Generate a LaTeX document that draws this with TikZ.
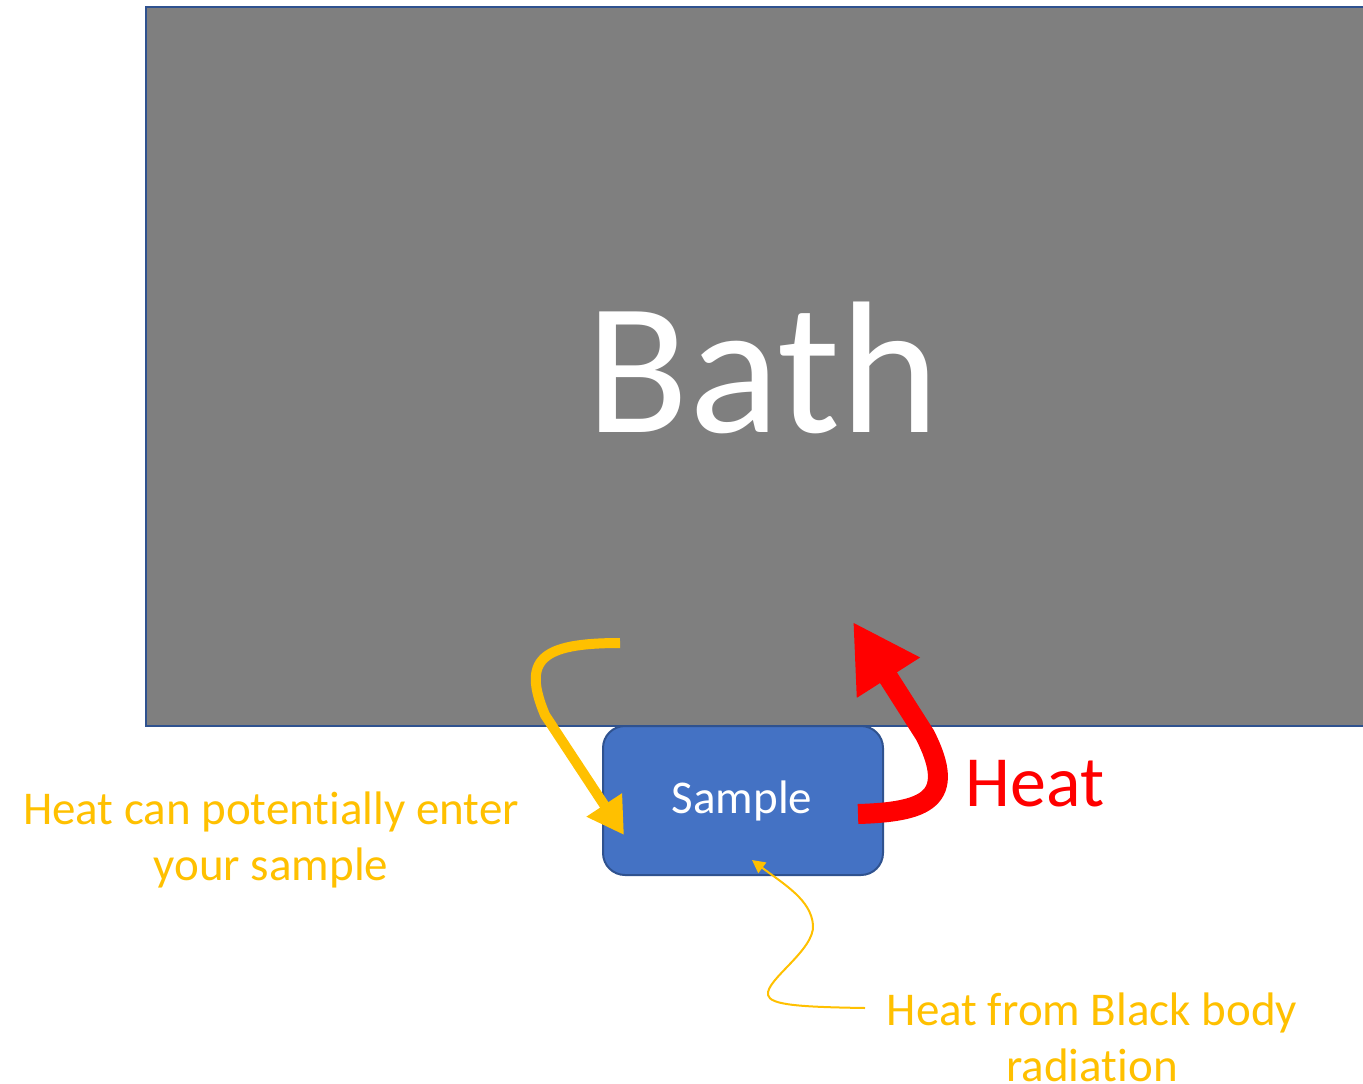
\documentclass[tikz,border=0pt]{standalone}
\usepackage{fontspec}
\setmainfont[Ligatures={NoCommon}]{Carlito}
\usetikzlibrary{arrows.meta}
\definecolor{bathgray}{HTML}{7F7F7F}
\definecolor{edgeblue}{HTML}{2F528F}
\definecolor{sampleblue}{HTML}{4472C4}
\definecolor{heatorange}{HTML}{FFC000}
\definecolor{heatred}{HTML}{FF0000}
\tikzset{
  bathbox/.style={fill=bathgray, draw=edgeblue, line width=2.5pt},
  samplebox/.style={fill=sampleblue, draw=edgeblue, line width=2pt, rounded corners=22pt},
  label/.style={inner sep=0pt, align=center},
  yarrow/.style={draw=heatorange, line width=10pt, -{Triangle[length=36pt,width=40pt]}},
  rarrow/.style={draw=heatred, line width=20pt, -{Triangle[length=66pt,width=70pt]}},
  tarrow/.style={draw=heatorange, line width=2pt, -{Triangle[length=13pt,width=13pt]}}
}
\begin{document}
\begin{tikzpicture}[x=1pt,y=-1pt]
\useasboundingbox (0,0) rectangle (1363,1084);
\begin{scope}
\clip (0,0) rectangle (1363,1084);
\path[bathbox] (146,7) rectangle (1380,726);
\end{scope}
\node[label, anchor=base, text=white, font=\fontsize{188}{220}\selectfont] (bath) at (763,432) {Bath};
\path[samplebox] (603,726) rectangle (883,875);
\node[label, anchor=base, text=white, font=\fontsize{47}{56}\selectfont] (sample) at (742,813) {Sample};
\coordinate (ys) at (620,643);
\coordinate (yt) at (624,835);
\draw[yarrow] (ys) .. controls (540,643) and (522,660) .. (545,715) -- (yt);
\coordinate (rs) at (858,814);
\coordinate (rt) at (853,622);
\draw[rarrow] (rs) .. controls (925,812) and (958,800) .. (925,735) -- (rt);
\node[label, anchor=base, text=heatred, font=\fontsize{72}{86}\selectfont] (heat) at (1035,806) {Heat};
\node[label, anchor=base, text=heatorange, font=\fontsize{47}{56}\selectfont] (enter) at (271,880) {Heat can potentially enter\\your sample};
\node[label, anchor=base, text=heatorange, font=\fontsize{47}{56}\selectfont] (bb) at (1092,1081) {Heat from Black body\\radiation};
\coordinate (ts) at (865,1008);
\coordinate (tt) at (752,860);
\draw[tarrow] (ts) .. controls (800,1007) and (770,1005) .. (768,995) .. controls (765,980) and (815,950) .. (813,925) .. controls (811,900) and (785,885) .. (tt);
\end{tikzpicture}
\end{document}
